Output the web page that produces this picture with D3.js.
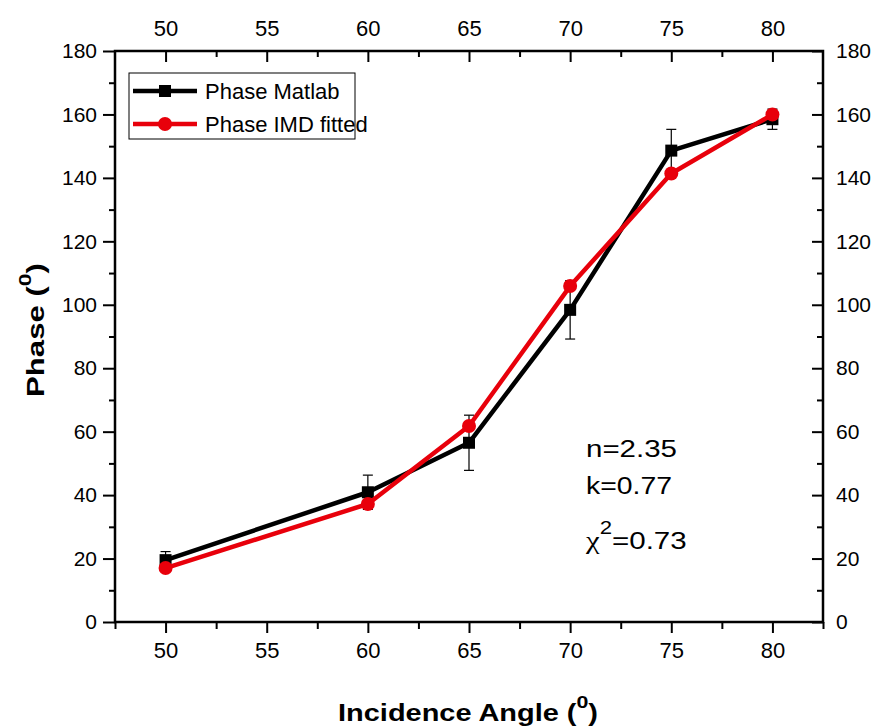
<!DOCTYPE html>
<html>
<head>
<meta charset="utf-8">
<script src="https://cdn.jsdelivr.net/npm/d3@7"></script>
<style>
  html, body { margin: 0; padding: 0; background: #fff; }
  svg text { font-family: Arial, "Liberation Sans", sans-serif; fill: #000; }
</style>
</head>
<body>
<svg id="chart" width="875" height="727"></svg>
<script>
// Incidence angles (degrees)
const angles = [50, 60, 65, 70, 75, 80];
// Phase computed in Matlab, with its uncertainty
const phaseMatlab = [19.5, 40.9, 56.5, 98.4, 148.6, 158.5];
const phaseMatlabErr = [2.7, 5.4, 8.7, 9.2, 6.7, 3.2];
// Phase from the IMD fit
const phaseIMD = [17.0, 37.2, 61.8, 105.9, 141.4, 160.0];

const xTicks = [50, 55, 60, 65, 70, 75, 80];
const xMinorTicks = [47.5, 52.5, 57.5, 62.5, 67.5, 72.5, 77.5, 82.5];
const yTicks = [0, 20, 40, 60, 80, 100, 120, 140, 160, 180];
const yMinorTicks = [10, 30, 50, 70, 90, 110, 130, 150, 170];

const seriesNames = ["Phase Matlab", "Phase IMD fitted"];
const fitText = ["n=2.35", "k=0.77"];
const chiValue = "=0.73";

const svg = d3.select("#chart");
const L = 115, R = 823, T = 51, B = 622;

const x = d3.scaleLinear().domain([47.5, 82.5]).range([L, R]);
const y = d3.scaleLinear().domain([0, 180]).range([B, T]);

// Axes: bottom/left ticks point outward, top/right ticks point inward
function styleAxis(size) {
  return g => {
    g.select(".domain").remove();
    g.selectAll("line").attr("stroke", "#000").attr("stroke-width", 2);
    g.selectAll("text").style("font-size", size + "px")
      .style("font-family", "Arial, 'Liberation Sans', sans-serif");
  };
}

svg.append("g").attr("transform", `translate(0,${B})`)
  .call(d3.axisBottom(x).tickValues(xTicks).tickSize(11).tickPadding(9).tickFormat(d3.format("d")))
  .call(styleAxis(22));
svg.append("g").attr("transform", `translate(0,${B})`)
  .call(d3.axisBottom(x).tickValues(xMinorTicks).tickSize(7).tickFormat(""))
  .call(styleAxis(22));

svg.append("g").attr("transform", `translate(0,${T})`)
  .call(d3.axisTop(x).tickValues(xTicks).tickSizeInner(-11).tickSizeOuter(0).tickPadding(15).tickFormat(d3.format("d")))
  .call(styleAxis(22));
svg.append("g").attr("transform", `translate(0,${T})`)
  .call(d3.axisTop(x).tickValues(xMinorTicks.slice(1, -1)).tickSizeInner(-6).tickSizeOuter(0).tickFormat(""))
  .call(styleAxis(22));

svg.append("g").attr("transform", `translate(${L},0)`)
  .call(d3.axisLeft(y).tickValues(yTicks).tickSize(12).tickPadding(6).tickFormat(d3.format("d")))
  .call(styleAxis(21));
svg.append("g").attr("transform", `translate(${L},0)`)
  .call(d3.axisLeft(y).tickValues(yMinorTicks).tickSize(6).tickFormat(""))
  .call(styleAxis(21));

svg.append("g").attr("transform", `translate(${R},0)`)
  .call(d3.axisRight(y).tickValues(yTicks).tickSizeInner(-11).tickSizeOuter(0).tickPadding(13).tickFormat(d3.format("d")))
  .call(styleAxis(21));
svg.append("g").attr("transform", `translate(${R},0)`)
  .call(d3.axisRight(y).tickValues(yMinorTicks).tickSizeInner(-6).tickSizeOuter(0).tickFormat(""))
  .call(styleAxis(21));

// Frame
svg.append("rect").attr("x", L).attr("y", T).attr("width", R - L).attr("height", B - T)
  .attr("fill", "none").attr("stroke", "#000").attr("stroke-width", 2.5);

// Stretch a text block horizontally so it spans the given width around its anchor
function fitWidth(sel, width) {
  const w = sel.node().getBBox().width;
  return w > 0 ? width / w : 1;
}

// X axis title
const xtg = svg.append("g");
const xt = xtg.append("text").attr("text-anchor", "middle")
  .style("font-size", "23px").style("font-weight", "bold");
xt.append("tspan").text("Incidence Angle (");
xt.append("tspan").attr("dy", -13).style("font-size", "17px").text("0");
xt.append("tspan").attr("dy", 13).text(")");
xtg.attr("transform", `translate(468,721) scale(${fitWidth(xt, 260)},1)`);

// Y axis title
const ytg = svg.append("g");
const yt = ytg.append("text").attr("text-anchor", "middle")
  .style("font-size", "23px").style("font-weight", "bold");
yt.append("tspan").text("Phase (");
yt.append("tspan").attr("dy", -13).style("font-size", "17px").text("0");
yt.append("tspan").attr("dy", 13).text(")");
ytg.attr("transform", `translate(44,330) rotate(-90) scale(${fitWidth(yt, 134)},1)`);

// Data
const dMatlab = angles.map((a, i) => ({ a, v: phaseMatlab[i], e: phaseMatlabErr[i] }));
const dIMD = angles.map((a, i) => ({ a, v: phaseIMD[i] }));

const line = d3.line().x(d => x(d.a)).y(d => y(d.v));

// Error bars on the Matlab series
const eb = svg.append("g").attr("stroke", "#000").attr("stroke-width", 1.2);
dMatlab.forEach(d => {
  eb.append("line").attr("x1", x(d.a)).attr("x2", x(d.a)).attr("y1", y(d.v - d.e)).attr("y2", y(d.v + d.e));
  [d.v - d.e, d.v + d.e].forEach(v => {
    eb.append("line").attr("x1", x(d.a) - 5).attr("x2", x(d.a) + 5).attr("y1", y(v)).attr("y2", y(v));
  });
});

svg.append("path").datum(dMatlab).attr("d", line).attr("fill", "none")
  .attr("stroke", "#000").attr("stroke-width", 4.5).attr("stroke-linejoin", "round");
svg.append("g").selectAll("rect").data(dMatlab).join("rect")
  .attr("x", d => x(d.a) - 6).attr("y", d => y(d.v) - 6).attr("width", 12).attr("height", 12).attr("fill", "#000");

svg.append("path").datum(dIMD).attr("d", line).attr("fill", "none")
  .attr("stroke", "#e8000b").attr("stroke-width", 4.5).attr("stroke-linejoin", "round");
svg.append("g").selectAll("circle").data(dIMD).join("circle")
  .attr("cx", d => x(d.a)).attr("cy", d => y(d.v)).attr("r", 7).attr("fill", "#e8000b");

// Legend
const lg = svg.append("g");
lg.append("rect").attr("x", 129).attr("y", 73).attr("width", 226).attr("height", 66)
  .attr("fill", "#fff").attr("stroke", "#000").attr("stroke-width", 1);
const legendRows = [
  { name: seriesNames[0], color: "#000", shape: "square", cy: 91 },
  { name: seriesNames[1], color: "#e8000b", shape: "circle", cy: 124 }
];
legendRows.forEach(r => {
  lg.append("line").attr("x1", 133).attr("x2", 197).attr("y1", r.cy).attr("y2", r.cy)
    .attr("stroke", r.color).attr("stroke-width", 4.5);
  if (r.shape === "square") {
    lg.append("rect").attr("x", 159).attr("y", r.cy - 6).attr("width", 12).attr("height", 12).attr("fill", r.color);
  } else {
    lg.append("circle").attr("cx", 165).attr("cy", r.cy).attr("r", 7).attr("fill", r.color);
  }
  lg.append("text").attr("x", 205).attr("y", r.cy + 8).style("font-size", "22px").text(r.name);
});

// Fit parameters
function fitLine(yPos, width, build) {
  const g = svg.append("g");
  const t = g.append("text").style("font-size", "24px");
  build(t);
  g.attr("transform", `translate(586,${yPos}) scale(${fitWidth(t, width)},1)`);
}
fitLine(457, 91, t => t.text(fitText[0]));
fitLine(494, 86, t => t.text(fitText[1]));
fitLine(549, 102, t => {
  t.append("tspan").style("font-family", "'Liberation Serif', 'DejaVu Serif', serif").style("font-size", "25px").text("χ");
  t.append("tspan").attr("dy", -15).style("font-size", "18px").text("2");
  t.append("tspan").attr("dy", 15).text(chiValue);
});
</script>
</body>
</html>
